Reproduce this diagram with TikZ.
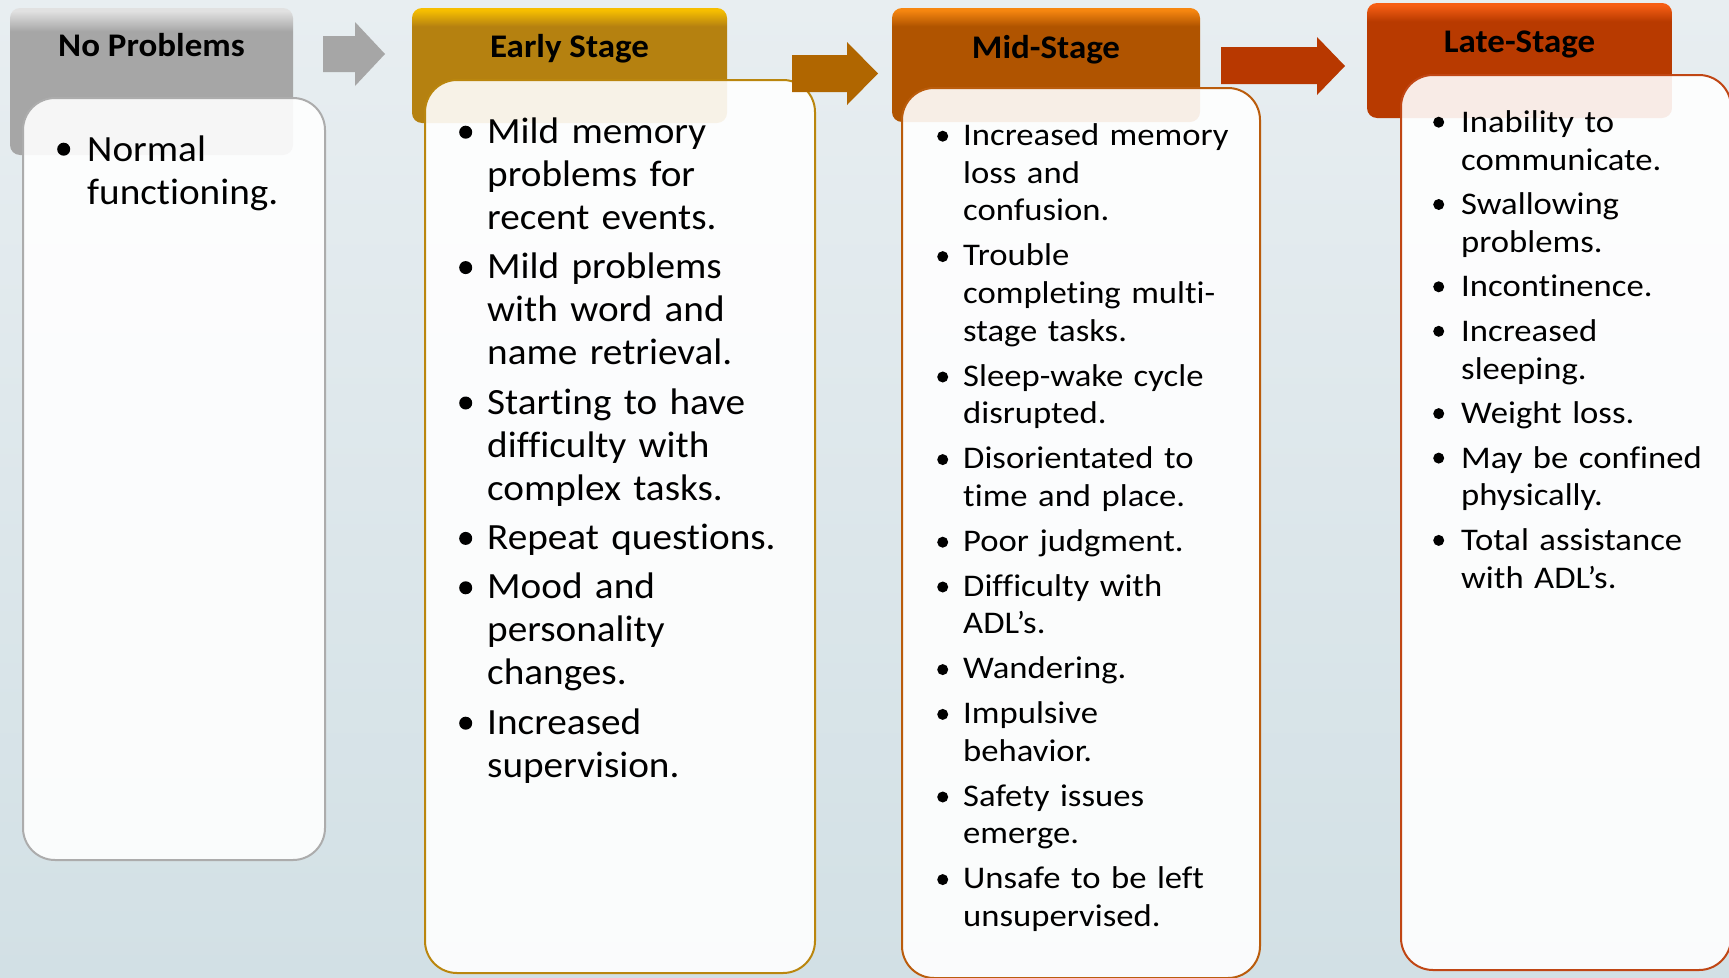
\documentclass[tikz,border=0pt]{standalone}
\usepackage{fontspec}
\setmainfont{Carlito}[FakeStretch=1.06,Ligatures=NoCommon,Contextuals=NoAlternate]
\newfontfamily\widefont{Carlito}[FakeStretch=1.1,Ligatures=NoCommon,Contextuals=NoAlternate]
\definecolor{bgtop}{RGB}{232,238,241}
\definecolor{bgbot}{RGB}{210,224,229}
\definecolor{grayH}{RGB}{166,166,166}
\definecolor{grayL}{RGB}{225,225,225}
\definecolor{grayB}{RGB}{172,172,172}
\definecolor{earlyH}{RGB}{181,129,16}
\definecolor{earlyL}{RGB}{246,190,0}
\definecolor{earlyB}{RGB}{186,134,14}
\definecolor{midH}{RGB}{176,84,0}
\definecolor{midL}{RGB}{246,134,16}
\definecolor{midB}{RGB}{186,92,12}
\definecolor{lateH}{RGB}{184,58,0}
\definecolor{lateL}{RGB}{246,94,20}
\definecolor{lateB}{RGB}{192,70,20}
\definecolor{arrowA}{RGB}{166,166,166}
\definecolor{arrowB}{RGB}{176,102,0}
\definecolor{arrowC}{RGB}{184,56,0}
\pgfdeclareverticalshading{shGray}{100bp}{color(0bp)=(grayH); color(25bp)=(grayH); color(67bp)=(grayH); color(74bp)=(grayL); color(100bp)=(grayL)}
\pgfdeclareverticalshading{shEarly}{100bp}{color(0bp)=(earlyH); color(25bp)=(earlyH); color(67bp)=(earlyH); color(74bp)=(earlyL); color(100bp)=(earlyL)}
\pgfdeclareverticalshading{shMid}{100bp}{color(0bp)=(midH); color(25bp)=(midH); color(67bp)=(midH); color(74bp)=(midL); color(100bp)=(midL)}
\pgfdeclareverticalshading{shLate}{100bp}{color(0bp)=(lateH); color(25bp)=(lateH); color(67bp)=(lateH); color(74bp)=(lateL); color(100bp)=(lateL)}
\newlength\bulind
\newlength\ruleh
\def\bulr{6.5pt}
\def\bulraise{11pt}
\newcommand{\bdot}{\raisebox{\bulraise}{\tikz[baseline=0pt]\fill[black] (0,0) circle (\bulr);}}
\newcommand{\bul}[1]{\noindent\hangindent=\bulind\hangafter=1\rule{0pt}{\ruleh}\makebox[\bulind][l]{\bdot}#1\par}
\tikzset{
  hdr/.style={rectangle, rounded corners=10pt, inner sep=0pt, draw=none},
  bodybox/.style={rectangle, rounded corners=32pt, inner sep=0pt, line width=2pt, fill=white, fill opacity=0.9},
  ttl/.style={font=\bfseries\fontsize{33pt}{40pt}\selectfont, anchor=base, inner sep=0pt},
  txtbig/.style={anchor=north west, inner sep=0pt, align=left, font=\fontsize{37pt}{43pt}\selectfont},
  txtsmall/.style={anchor=north west, inner sep=0pt, align=left},
}
\begin{document}
\begin{tikzpicture}[x=1pt,y=1pt]
\useasboundingbox (0,0) rectangle (1729,-977);
\fill[top color=bgtop,bottom color=bgbot] (0,0) rectangle (1729,-977);

% headers
\node[hdr, shading=shGray, minimum width=283pt, minimum height=147pt] (h1) at (151.5,-81.5) {};
\node[hdr, shading=shEarly, minimum width=315pt, minimum height=115pt] (h2) at (569.5,-65.5) {};
\node[hdr, shading=shMid, minimum width=308pt, minimum height=114pt] (h3) at (1046,-65) {};
\node[hdr, shading=shLate, minimum width=305pt, minimum height=115pt] (h4) at (1519.5,-60.5) {};

% titles
\node[ttl] (t1) at (151.5,-56) {No Problems};
\node[ttl] (t2) at (569.5,-57) {Early Stage};
\node[ttl] (t3) at (1046,-58) {Mid-Stage};
\node[ttl] (t4) at (1519.5,-52) {Late-Stage};

% bodies
\node[bodybox, draw=grayB, minimum width=302pt, minimum height=762pt] (b1) at (174,-479) {};
\node[bodybox, draw=earlyB, minimum width=390pt, minimum height=893pt] (b2) at (620,-526.5) {};
\node[bodybox, draw=midB, minimum width=358pt, minimum height=890pt] (b3) at (1081,-533) {};
\node[bodybox, draw=lateB, minimum width=330pt, minimum height=895pt] (b4) at (1566,-522.5) {};

% arrows
\fill[arrowA] (323,-36) -- (355,-36) -- (355,-22) -- (385,-54) -- (355,-86) -- (355,-72) -- (323,-72) -- cycle;
\fill[arrowB] (792,-55) -- (847,-55) -- (847,-42) -- (878,-73.5) -- (847,-105) -- (847,-92) -- (792,-92) -- cycle;
\fill[arrowC] (1221,-47) -- (1317,-47) -- (1317,-37) -- (1345,-66) -- (1317,-95) -- (1317,-84) -- (1221,-84) -- cycle;

% texts
\node[txtbig, text width=260pt] (x1) at (57,-129) {%
\setlength\bulind{30pt}\setlength\ruleh{32pt}\def\bulr{6.5pt}\def\bulraise{12pt}%
\setlength\parskip{6.4pt}\setlength\parindent{0pt}%
\bul{Normal\newline functioning.}};

\node[txtbig, text width=350pt] (x2) at (459,-111) {%
\setlength\bulind{28pt}\setlength\ruleh{32pt}\def\bulr{6.5pt}\def\bulraise{11pt}%
\setlength\parskip{6.4pt}\setlength\parindent{0pt}%
\bul{Mild memory\newline problems for\newline recent events.}%
\bul{Mild problems\newline with word and\newline name retrieval.}%
\bul{Starting to have\newline difficulty with\newline complex tasks.}%
\bul{Repeat questions.}%
\bul{Mood and\newline personality\newline changes.}%
\bul{Increased\newline supervision.}};

\node[txtsmall, text width=320pt, font=\widefont\fontsize{31.5pt}{37.8pt}\selectfont] (x3) at (937,-118) {%
\setlength\bulind{26pt}\setlength\ruleh{27pt}\def\bulr{5.5pt}\def\bulraise{9pt}%
\setlength\parskip{7pt}\setlength\parindent{0pt}%
\bul{Increased memory\newline loss and\newline confusion.}%
\bul{Trouble\newline completing multi-\newline stage tasks.}%
\bul{Sleep-wake cycle\newline disrupted.}%
\bul{Disorientated to\newline time and place.}%
\bul{Poor judgment.}%
\bul{Difficulty with\newline ADL’s.}%
\bul{Wandering.}%
\bul{Impulsive\newline behavior.}%
\bul{Safety issues\newline emerge.}%
\bul{Unsafe to be left\newline unsupervised.}};

\node[txtsmall, text width=300pt, font=\widefont\fontsize{31.5pt}{37.8pt}\selectfont] (x4) at (1433,-105) {%
\setlength\bulind{28pt}\setlength\ruleh{27pt}\def\bulr{5.5pt}\def\bulraise{10pt}%
\setlength\parskip{6.7pt}\setlength\parindent{0pt}%
\bul{Inability to\newline communicate.}%
\bul{Swallowing\newline problems.}%
\bul{Incontinence.}%
\bul{Increased\newline sleeping.}%
\bul{Weight loss.}%
\bul{May be confined\newline physically.}%
\bul{Total assistance\newline with ADL’s.}};
\end{tikzpicture}
\end{document}
